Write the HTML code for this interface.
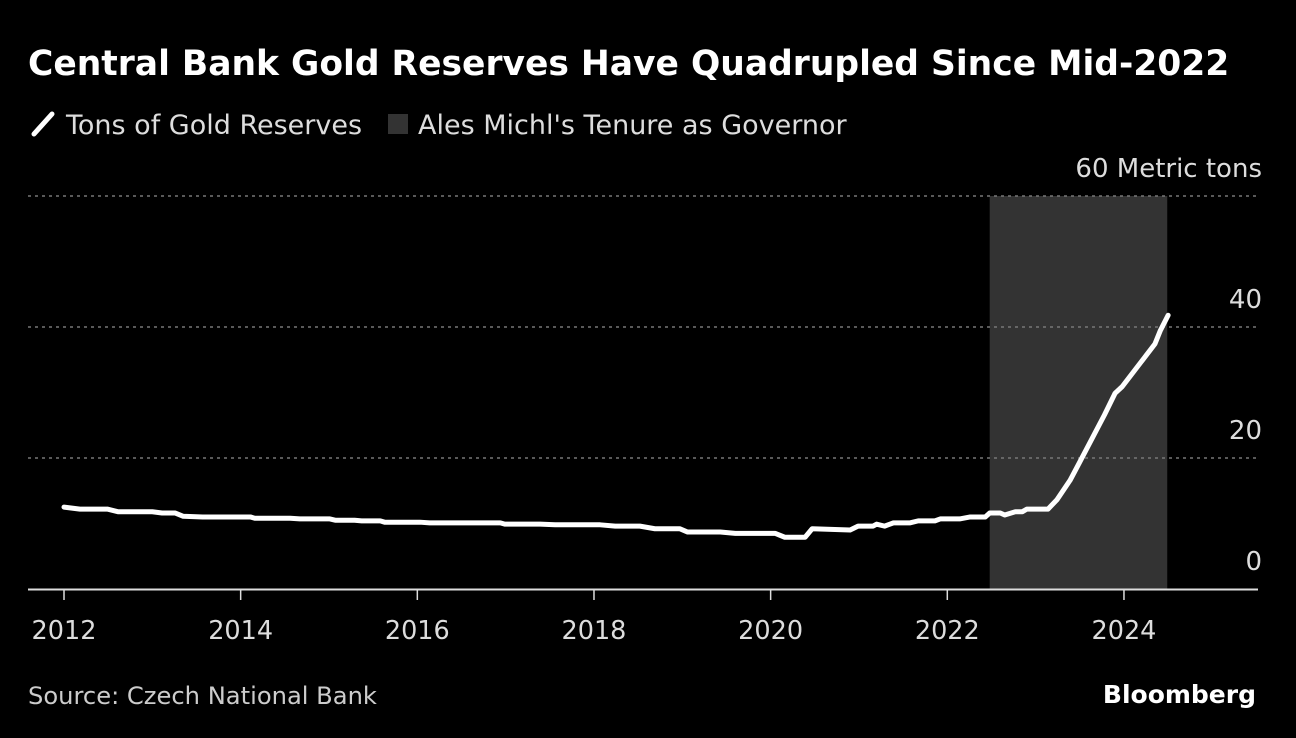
<!DOCTYPE html>
<html><head><meta charset="utf-8"><style>
html,body{margin:0;padding:0;background:#000;width:1296px;height:738px;overflow:hidden}
svg{display:block}
text{font-family:"DejaVu Sans","Liberation Sans",sans-serif}
</style></head><body>
<svg id="chart" width="1296" height="738">
<text x="28" y="75" fill="#fff" font-size="34.5" font-weight="bold">Central Bank Gold Reserves Have Quadrupled Since Mid-2022</text>
<g>
<line x1="34" y1="134" x2="52" y2="114" stroke="#fff" stroke-width="5" stroke-linecap="round"/>
<text x="66" y="134" fill="#ddd" font-size="27">Tons of Gold Reserves</text>
<rect x="388" y="114" width="20" height="20" fill="#333"/>
<text x="418" y="134" fill="#ddd" font-size="27">Ales Michl's Tenure as Governor</text>
</g>
<g id="plot"></g>
<text x="28" y="704" fill="#ccc" font-size="24.2">Source: Czech National Bank</text>
<text x="1256" y="703" fill="#fff" font-size="25" font-weight="bold" text-anchor="end" font-family="Liberation Sans">Bloomberg</text>
</svg>
<script>
const years=[2012,2012.18,2012.49,2012.61,2013.0,2013.11,2013.26,2013.35,2013.57,2014.11,2014.16,2014.56,2014.67,2015.01,2015.07,2015.29,2015.37,2015.58,2015.63,2016.03,2016.14,2016.94,2016.99,2017.39,2017.56,2018.07,2018.24,2018.52,2018.69,2018.97,2019.06,2019.43,2019.60,2020.05,2020.16,2020.39,2020.47,2020.90,2020.99,2021.16,2021.20,2021.29,2021.39,2021.58,2021.67,2021.86,2021.92,2022.14,2022.26,2022.43,2022.48,2022.60,2022.65,2022.77,2022.85,2022.90,2023.14,2023.24,2023.39,2023.50,2023.78,2023.90,2023.98,2024.35,2024.41,2024.50];
const tons=[12.5,12.2,12.2,11.8,11.8,11.6,11.6,11.1,11.0,11.0,10.8,10.8,10.7,10.7,10.5,10.5,10.4,10.4,10.2,10.2,10.1,10.1,9.9,9.9,9.8,9.8,9.6,9.6,9.2,9.2,8.7,8.7,8.5,8.5,7.9,7.9,9.2,9.0,9.6,9.6,9.9,9.6,10.1,10.1,10.4,10.4,10.7,10.7,11.0,11.0,11.6,11.6,11.3,11.8,11.8,12.2,12.2,13.6,16.6,19.4,26.6,29.9,30.9,37.4,39.4,41.8];
const tenure=[2022.48,2024.49];
const yTicks=[0,20,40,60];
const yTickLabels=["0","20","40","60 Metric tons"];
const xTicks=[2012,2014,2016,2018,2020,2022,2024];
const NS="http://www.w3.org/2000/svg";
const X=y=>64+(y-2012)*88.33;
const Y=v=>589-v*6.55;
const g=document.getElementById('plot');
function mk(t,a){const e=document.createElementNS(NS,t);for(const k in a)e.setAttribute(k,a[k]);g.appendChild(e);return e;}
let r=mk('rect',{x:X(tenure[0]),y:Y(60),width:X(tenure[1])-X(tenure[0]),height:Y(0)-Y(60),fill:'#333'});


yTicks.forEach((v,i)=>{
 if(v>0){const l=mk('line',{x1:28,x2:1258,y1:Y(v),y2:Y(v),stroke:'#777','stroke-width':1.5,'stroke-dasharray':'3,4'});
 
 }
 const t=mk('text',{x:1262,y:Y(v)-19,fill:'#ddd','font-size':26,'text-anchor':'end'});
 t.textContent=yTickLabels[i];
 
 
});
const ax=mk('line',{x1:28,x2:1258,y1:589.5,y2:589.5,stroke:'#ddd','stroke-width':2});


xTicks.forEach(y=>{
 const tk=mk('line',{x1:X(y),x2:X(y),y1:589,y2:600,stroke:'#ddd','stroke-width':1.5});
 
 
 const t=mk('text',{x:X(y),y:639,fill:'#ddd','font-size':25.5,'text-anchor':'middle'});
 t.textContent=y;
 
 
});
const p=mk('polyline',{points:years.map((y,i)=>X(y)+','+Y(tons[i])).join(' '),fill:'none',stroke:'#fff','stroke-width':5,'stroke-linejoin':'round','stroke-linecap':'round'});


</script>
</body></html>
